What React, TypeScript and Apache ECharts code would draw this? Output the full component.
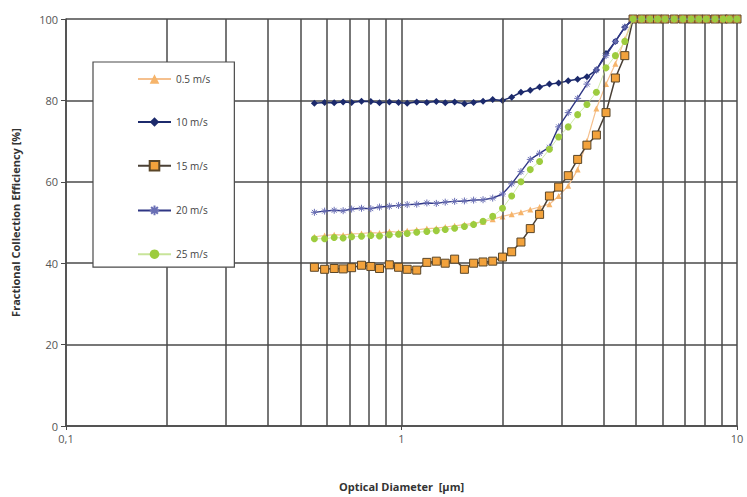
import React, { useEffect, useRef } from "react";
import * as echarts from "echarts";

const DIAMETERS = [
  0.55, 0.59, 0.63, 0.67, 0.71, 0.76, 0.81, 0.86, 0.92, 0.98, 1.04, 1.11, 1.19, 1.27, 1.35, 1.44, 1.54,
  1.64, 1.75, 1.87, 2.0, 2.13, 2.27, 2.42, 2.58, 2.76, 2.94, 3.14, 3.35, 3.57, 3.81, 4.07, 4.34, 4.63,
  4.9, 5.2, 5.5, 5.8, 6.1, 6.5, 6.9, 7.3, 7.7, 8.1, 8.6, 9.1, 9.5, 10.0,
];

const V_05 = [
  46.5, 46.8, 47.0, 46.9, 47.2, 47.3, 47.5, 47.4, 47.8, 47.6, 48.0, 48.2, 48.5, 48.6, 48.9, 49.2, 49.5,
  49.8, 50.2, 50.8, 51.5, 52.0, 52.5, 53.2, 53.8, 54.5, 56.5, 59.0, 63.0, 70.0, 78.0, 84.0, 89.0, 95.0,
  100, 100, 100, 100, 100, 100, 100, 100, 100, 100, 100, 100, 100, 100,
];
const V_10 = [
  79.3, 79.5, 79.4, 79.6, 79.5, 79.8, 79.7, 79.4, 79.6, 79.5, 79.3, 79.6, 79.5, 79.7, 79.4, 79.6, 79.2,
  79.5, 79.8, 80.2, 80.0, 80.8, 82.0, 82.5, 83.3, 84.0, 84.3, 84.8, 85.2, 85.8, 87.5, 91.5, 94.5, 98.0,
  100, 100, 100, 100, 100, 100, 100, 100, 100, 100, 100, 100, 100, 100,
];
const V_15 = [
  39.0, 38.5, 38.7, 38.6, 38.9, 39.5, 39.2, 38.7, 39.6, 39.0, 38.5, 38.3, 40.2, 40.5, 40.0, 41.0, 38.5,
  40.0, 40.3, 40.5, 41.5, 42.8, 45.2, 48.5, 52.0, 56.5, 58.7, 61.5, 65.5, 69.0, 71.5, 77.0, 85.5, 91.0,
  100, 100, 100, 100, 100, 100, 100, 100, 100, 100, 100, 100, 100, 100,
];
const V_20 = [
  52.5, 52.8, 53.0, 52.9, 53.3, 53.5, 53.4, 53.8, 54.0, 54.2, 54.4, 54.5, 54.8, 54.7, 55.0, 55.2, 55.3,
  55.5, 55.6, 56.0, 57.0, 59.5, 62.5, 65.5, 67.0, 68.5, 73.5, 77.0, 80.5, 84.0, 87.5, 91.0, 94.5, 98.0,
  100, 100, 100, 100, 100, 100, 100, 100, 100, 100, 100, 100, 100, 100,
];
const V_25 = [
  46.0, 46.0, 46.3, 46.2, 46.5, 46.6, 46.8, 46.7, 47.0, 47.1, 47.3, 47.6, 47.8, 48.0, 48.3, 48.6, 49.0,
  49.5, 50.3, 51.5, 53.5, 56.5, 60.0, 63.0, 65.0, 68.0, 71.0, 73.5, 76.5, 79.0, 82.0, 88.0, 91.0, 94.5,
  100, 100, 100, 100, 100, 100, 100, 100, 100, 100, 100, 100, 100, 100,
];

const SERIES_NAMES = ["0.5 m/s", "10 m/s", "15 m/s", "20 m/s", "25 m/s"];
const MINOR_GRID_X = [0.2, 0.3, 0.4, 0.5, 0.6, 0.7, 0.8, 0.9, 2, 3, 4, 5, 6, 7, 8, 9];
const Y_TICKS = { min: 0, max: 100, interval: 20 };

const FONT = "'Open Sans', 'Noto Sans', sans-serif";
const GRID_COLOR = "#4a4a4a";

const pairs = (vals: number[]) => DIAMETERS.map((d, i) => [d, vals[i]]);

const STAR = "path://M5,0L5,10M0,5L10,5M1.5,1.5L8.5,8.5M8.5,1.5L1.5,8.5";

export default function App() {
  const ref = useRef<HTMLDivElement>(null);

  useEffect(() => {
    document.body.style.margin = "0";
    if (!ref.current) return;
    const chart = echarts.init(ref.current, undefined, { renderer: "svg" });
    chart.setOption({
      animation: false,
      backgroundColor: "#ffffff",
      grid: { left: 66, right: 10, top: 19, bottom: 71, containLabel: false },
      legend: {
        data: SERIES_NAMES,
        orient: "vertical",
        left: 93,
        top: 62,
        z: 10,
        itemWidth: 33,
        itemHeight: 12,
        itemGap: 33,
        padding: [12, 24, 8, 44],
        backgroundColor: "#ffffff",
        borderColor: GRID_COLOR,
        borderWidth: 1.2,
        textStyle: { fontFamily: FONT, fontSize: 10, color: "#444" },
      },
      xAxis: {
        type: "log",
        logBase: 10,
        min: 0.1,
        max: 10,
        name: "Optical Diameter  [µm]",
        nameLocation: "middle",
        nameGap: 55,
        nameTextStyle: { fontFamily: FONT, fontSize: 11, fontWeight: "bold", color: "#333" },
        axisLine: { show: true, lineStyle: { color: GRID_COLOR, width: 1.5 } },
        axisTick: { show: true, length: 4, lineStyle: { color: GRID_COLOR } },
        axisLabel: {
          fontFamily: FONT,
          fontSize: 11,
          color: "#555",
          margin: 7,
          formatter: (v: number) => String(v).replace(".", ","),
        },
        splitLine: { show: true, lineStyle: { color: GRID_COLOR, width: 1.5 } },
      },
      yAxis: {
        type: "value",
        min: Y_TICKS.min,
        max: Y_TICKS.max,
        interval: Y_TICKS.interval,
        name: "Fractional Collection Efficiency [%]",
        nameLocation: "middle",
        nameGap: 45,
        nameTextStyle: { fontFamily: FONT, fontSize: 11, fontWeight: "bold", color: "#333" },
        axisLine: { show: true, lineStyle: { color: GRID_COLOR, width: 1.5 } },
        axisTick: { show: true, length: 5, lineStyle: { color: GRID_COLOR } },
        axisLabel: { fontFamily: FONT, fontSize: 11, color: "#555", margin: 8 },
        splitLine: { show: true, lineStyle: { color: GRID_COLOR, width: 1.5 } },
      },
      series: [
        {
          type: "line",
          name: "gridlines",
          data: [],
          z: 1,
          silent: true,
          markLine: {
            silent: true,
            symbol: ["none", "none"],
            label: { show: false },
            lineStyle: { color: GRID_COLOR, width: 1.5, type: "solid" },
            emphasis: { disabled: true },
            data: MINOR_GRID_X.map((v) => ({ xAxis: v })),
          },
        },
        {
          type: "line",
          name: SERIES_NAMES[0],
          data: pairs(V_05),
          z: 3,
          symbol: "triangle",
          symbolSize: 6,
          itemStyle: { color: "#f6b46a" },
          lineStyle: { color: "#f5c08e", width: 1.2 },
        },
        {
          type: "line",
          name: SERIES_NAMES[1],
          data: pairs(V_10),
          z: 4,
          symbol: "diamond",
          symbolSize: 7,
          itemStyle: { color: "#1c2a6c" },
          lineStyle: { color: "#1c2a6c", width: 1.5 },
        },
        {
          type: "line",
          name: SERIES_NAMES[2],
          data: pairs(V_15),
          z: 5,
          symbol: "rect",
          symbolSize: 8,
          itemStyle: { color: "#f2a23c", borderColor: "#5a4628", borderWidth: 1 },
          lineStyle: { color: "#4a4036", width: 1.5 },
        },
        {
          type: "line",
          name: SERIES_NAMES[3],
          data: pairs(V_20),
          z: 6,
          symbol: STAR,
          symbolSize: 7,
          itemStyle: { color: "#7a7fc0", borderColor: "#6a6fb5", borderWidth: 1 },
          lineStyle: { color: "#2f3684", width: 1.4 },
        },
        {
          type: "line",
          name: SERIES_NAMES[4],
          data: pairs(V_25),
          z: 7,
          symbol: "circle",
          symbolSize: 7,
          itemStyle: { color: "#9dcc3e" },
          lineStyle: { color: "#c8e49a", width: 0.8 },
        },
      ],
    });
    return () => chart.dispose();
  }, []);

  return <div ref={ref} style={{ width: 747, height: 497 }} />;
}
